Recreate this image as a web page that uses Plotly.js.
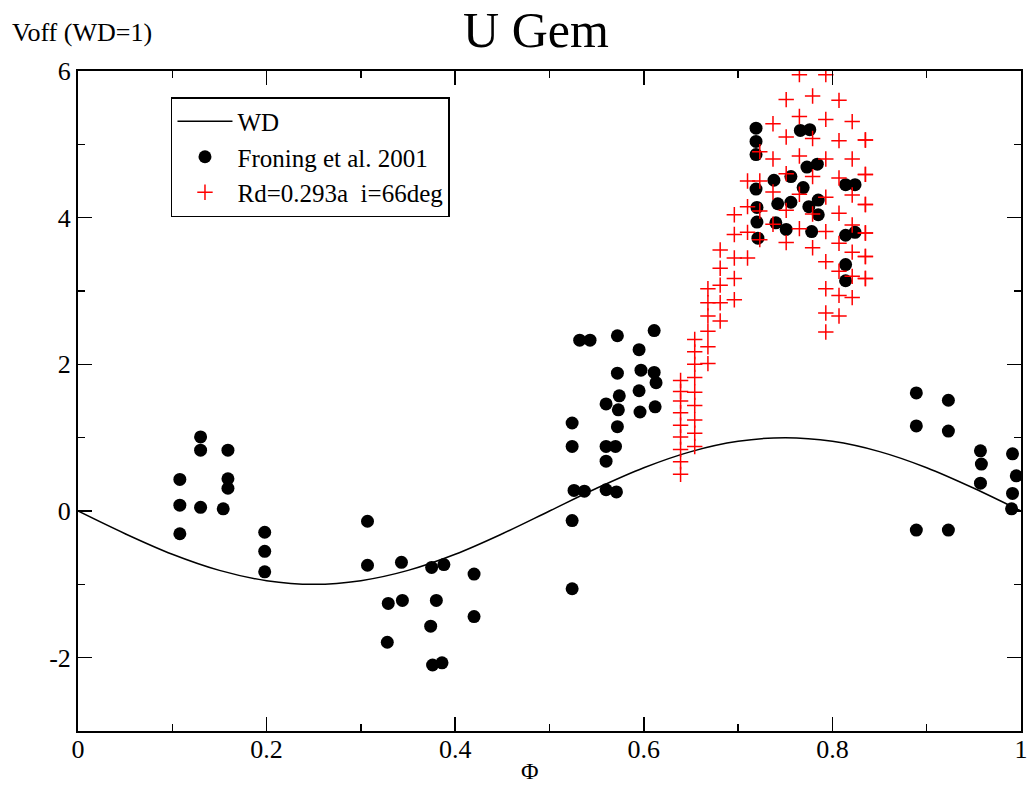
<!DOCTYPE html>
<html>
<head>
<meta charset="utf-8">
<script src="https://cdn.plot.ly/plotly-3.0.1.min.js"></script>
<style>html,body{margin:0;padding:0;background:#fff;}#chart{width:1028px;height:786px;}</style>
</head>
<body>
<div id="chart"></div>
<script>
// WD curve
const wdPhase = [0,0.05,0.1,0.15,0.2,0.25,0.3,0.35,0.4,0.45,0.5,0.55,0.6,0.65,0.7,0.75,0.8,0.85,0.9,0.95,1];
const wdV = [0,-0.31,-0.59,-0.81,-0.95,-1,-0.95,-0.81,-0.59,-0.31,0,0.31,0.59,0.81,0.95,1,0.95,0.81,0.59,0.31,0];

// Froning et al. 2001 observations
const froPhase = [
  0.108,0.108,0.108,0.130,0.130,0.130,0.154,0.159,0.159,0.159,0.198,0.198,0.198,
  0.307,0.307,0.343,0.329,0.344,0.328,0.375,0.388,0.380,0.374,0.376,0.386,0.420,0.420,
  0.524,0.524,0.526,0.524,0.524,0.532,0.543,0.537,0.560,0.560,0.560,0.560,0.570,0.571,
  0.572,0.572,0.574,0.573,0.572,0.595,0.597,0.595,0.596,0.611,0.611,0.613,0.612,
  0.719,0.719,0.719,0.719,0.720,0.720,0.721,0.738,0.742,0.740,0.756,0.756,0.751,
  0.766,0.776,0.773,0.784,0.769,0.775,0.785,0.785,0.778,0.814,0.824,0.814,0.824,0.814,0.814,
  0.889,0.889,0.889,0.923,0.923,0.923,0.957,0.958,0.957,0.991,0.995,0.991,0.990
];
const froV = [
  0.43,0.08,-0.31,1.01,0.83,0.05,0.03,0.83,0.44,0.31,-0.29,-0.55,-0.83,
  -0.14,-0.74,-0.70,-1.26,-1.22,-1.79,-0.77,-0.73,-1.22,-1.57,-2.10,-2.07,-0.86,-1.44,
  1.20,0.88,0.28,-0.13,-1.06,2.33,2.33,0.27,1.46,0.88,0.68,0.29,0.88,0.26,
  2.39,1.88,1.57,1.38,1.15,2.20,1.92,1.64,1.35,2.46,1.89,1.75,1.42,
  5.22,5.04,4.86,4.39,4.14,3.94,3.72,4.51,4.19,3.93,4.56,4.21,3.84,
  5.19,5.20,4.69,4.73,4.41,4.15,4.24,4.04,3.81,4.45,4.45,3.76,3.80,3.36,3.14,
  1.61,1.16,-0.26,1.51,1.09,-0.26,0.82,0.64,0.38,0.78,0.48,0.24,0.03
];

// Model Rd=0.293a i=66deg
const modPhase = [
  0.639,0.639,0.639,0.639,0.639,0.639,0.639,0.639,0.639,
  0.654,0.654,0.654,0.654,0.654,0.654,0.654,0.654,0.654,
  0.668,0.668,0.668,0.668,0.668,0.668,
  0.681,0.681,0.681,0.681,0.681,
  0.696,0.696,0.696,0.696,0.696,
  0.710,0.710,0.710,0.710,
  0.723,0.723,0.723,0.723,
  0.737,0.737,0.737,0.737,
  0.751,0.751,0.751,0.751,0.751,
  0.765,0.765,0.765,0.765,0.765,
  0.779,0.779,0.779,0.779,0.779,
  0.793,0.793,0.793,0.793,0.793,0.793,0.793,0.793,0.793,
  0.807,0.807,0.807,0.807,0.807,0.807,0.807,0.807,
  0.821,0.821,0.821,0.821,0.821,0.821,0.821,
  0.835,0.835,0.835,0.835,0.835,0.835,
  0.835,0.835,0.835,0.835,0.835,0.835
];
const modV = [
  1.78,1.63,1.50,1.34,1.17,1.01,0.84,0.67,0.50,
  2.34,2.17,2.00,1.82,1.62,1.44,1.24,1.06,0.88,
  3.03,2.84,2.66,2.45,2.24,2.01,
  3.56,3.31,3.08,2.84,2.59,
  4.04,3.77,3.45,3.17,2.88,
  4.50,4.15,3.80,3.45,
  4.90,4.50,4.09,3.70,
  5.28,4.80,4.35,3.91,
  5.61,5.10,4.60,4.10,3.66,
  5.95,5.38,4.84,4.32,3.85,
  5.66,5.08,4.56,4.05,3.59,
  5.95,5.34,4.80,4.28,3.81,3.40,3.03,2.70,2.44,
  5.60,5.05,4.54,4.06,3.65,3.27,2.94,2.66,
  5.31,4.80,4.31,3.90,3.53,3.20,2.91,
  5.06,4.59,4.18,3.79,3.47,3.17,
  5.06,4.59,4.18,3.79,3.47,3.17
];

const xTickVals = [0,0.2,0.4,0.6,0.8,1];
const xTickText = ["0","0.2","0.4","0.6","0.8","1"];
const yTickVals = [-2,0,2,4,6];
const yTickText = ["-2","0","2","4","6"];

const FONT = "Liberation Serif";

const traces = [
  {x: wdPhase, y: wdV, mode: "lines", name: "WD", line: {color: "black", width: 1.5, shape: "spline"}},
  {x: froPhase, y: froV, mode: "markers", name: "Froning et al. 2001",
   marker: {symbol: "circle", size: 13, color: "black"}},
  {x: modPhase, y: modV, mode: "markers", name: "Rd=0.293a  i=66deg",
   marker: {symbol: "cross-thin-open", size: 11, color: "red", line: {color: "red", width: 1.5}}}
];

const axisCommon = {
  showgrid: false, zeroline: false, showline: true, linecolor: "black", linewidth: 2,
  mirror: "allticks", ticks: "inside", ticklen: 14, tickwidth: 1.5, tickcolor: "black",
  tickfont: {family: FONT, size: 26, color: "black"}
};

const layout = {
  width: 1028, height: 786,
  margin: {l: 78, r: 7, t: 71, b: 55},
  paper_bgcolor: "white", plot_bgcolor: "white",
  font: {family: FONT, color: "black"},
  title: {text: "U Gem", font: {family: FONT, size: 50, color: "black"},
          x: (536 - 78) / 943, xref: "paper", xanchor: "center", y: 0.962, yanchor: "middle"},
  xaxis: Object.assign({}, axisCommon, {
    range: [0, 1], tickvals: xTickVals, ticktext: xTickText, ticklabelstandoff: -6,
    minor: {dtick: 0.1, ticks: "inside", ticklen: 7, tickwidth: 1.5, tickcolor: "black", showgrid: false}
  }),
  yaxis: Object.assign({}, axisCommon, {
    range: [-3, 6], tickvals: yTickVals, ticktext: yTickText,
    minor: {dtick: 1, ticks: "inside", ticklen: 7, tickwidth: 1.5, tickcolor: "black", showgrid: false}
  }),
  showlegend: true,
  legend: {
    x: 0.0986, y: 0.9606, xanchor: "left", yanchor: "top",
    bgcolor: "white", bordercolor: "black", borderwidth: 1.5,
    font: {family: FONT, size: 25, color: "black"},
    itemwidth: 55, tracegroupgap: 0
  },
  annotations: [
    {text: "Voff (WD=1)", xref: "paper", yref: "paper", x: (10 - 78) / 943, y: (731 - 33) / 660,
     xanchor: "left", yanchor: "middle", showarrow: false, font: {family: FONT, size: 26, color: "black"}},
    {text: "Φ", xref: "paper", yref: "paper", x: (530 - 78) / 943, y: (731 - 771) / 660,
     xanchor: "center", yanchor: "middle", showarrow: false, font: {family: FONT, size: 24, color: "black"}}
  ]
};

Plotly.newPlot("chart", traces, layout, {displayModeBar: false, staticPlot: true});
</script>
</body>
</html>
